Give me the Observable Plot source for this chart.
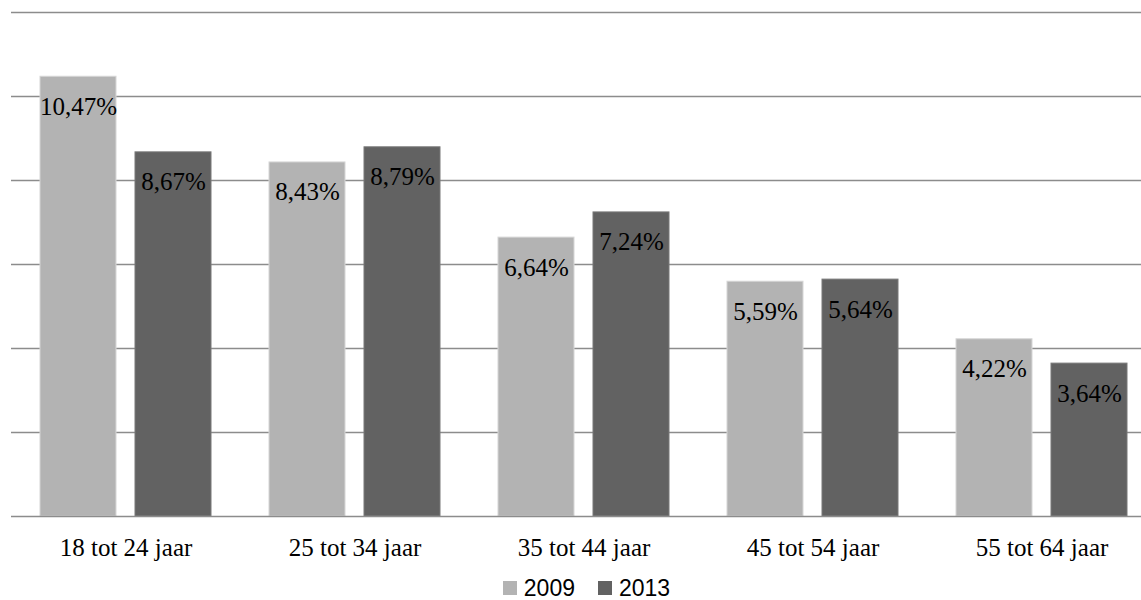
<!DOCTYPE html>
<html>
<head>
<meta charset="utf-8">
<script src="https://cdn.jsdelivr.net/npm/d3@7"></script>
<script src="https://cdn.jsdelivr.net/npm/@observablehq/plot@0.6"></script>
<style>
  html, body { margin: 0; padding: 0; background: #fff; }
  #wrap { position: relative; width: 1141px; height: 600px; overflow: hidden; }
  #chart svg { max-width: none !important; display: block; }
  #chart svg text { font-family: "Liberation Serif", serif !important; }
  .legend {
    position: absolute; left: 0; top: 577px;
    width: 1157px; box-sizing: border-box; padding-left: 16px;
    display: flex; justify-content: center; align-items: center;
    height: 22px; line-height: 22px;
    font-family: "Liberation Sans", sans-serif; font-size: 23px; color: #000;
  }
  .legend .item { display: flex; align-items: center; }
  .legend .sw { width: 14px; height: 14px; margin-right: 7px; }
  .legend .item + .item { margin-left: 23px; }
</style>
</head>
<body>
<div id="wrap">
  <div id="chart"></div>
  <div class="legend" id="legend"></div>
</div>
<script>
// Age groups and the share per survey year (percent)
const categories = ["18 tot 24 jaar", "25 tot 34 jaar", "35 tot 44 jaar", "45 tot 54 jaar", "55 tot 64 jaar"];
const years = ["2009", "2013"];
const values2009 = [10.47, 8.43, 6.64, 5.59, 4.22];
const values2013 = [8.67, 8.79, 7.24, 5.64, 3.64];
const yTicks = [0, 2, 4, 6, 8, 10, 12];
const colors = ["#b3b3b3", "#626262"];
const edges = ["#d6d6d6", "#787878"];

const rows = categories.flatMap((c, i) => [
  {category: c, year: years[0], value: values2009[i]},
  {category: c, year: years[1], value: values2013[i]}
]);

const fmt = v => v.toFixed(2).replace(".", ",") + "%";
const serif = "Liberation Serif";

const chart = Plot.plot({
  width: 1157,
  height: 570,
  marginLeft: 10,
  marginRight: 0,
  marginTop: 12,
  marginBottom: 54,
  style: {fontFamily: serif, fontSize: "25px", background: "#fff", maxWidth: "none"},
  fx: {domain: categories, paddingInner: 0, paddingOuter: 0, label: null, tickSize: 0, tickPadding: 22},
  x: {domain: years, paddingInner: 0.2, paddingOuter: 0.3, axis: null},
  y: {domain: [0, 12], axis: null},
  color: {domain: years, range: colors},
  marks: [
    Plot.ruleY(yTicks.filter(d => d > 0), {stroke: "#8c8c8c", strokeWidth: 1.5}),
    Plot.barY(rows, {
      fx: "category", x: "year", y: "value", fill: "year",
      stroke: d => edges[years.indexOf(d.year)], strokeWidth: 1
    }),
    Plot.text(rows, {
      fx: "category", x: "year", y: "value",
      text: d => fmt(d.value),
      lineAnchor: "bottom", dy: 38,
      fontSize: 25, fontFamily: serif, fill: "#000"
    }),
    Plot.ruleY([0], {stroke: "#8c8c8c", strokeWidth: 1.5})
  ]
});
document.getElementById("chart").appendChild(chart);

// Force text layout now so the serif face is resolved before the first paint
document.fonts.check("25px 'Liberation Serif'");
chart.querySelectorAll("text").forEach(t => { getComputedStyle(t).fontFamily; t.getBBox(); });

// Legend below the chart
const legend = document.getElementById("legend");
years.forEach((y, i) => {
  const item = document.createElement("div");
  item.className = "item";
  const sw = document.createElement("span");
  sw.className = "sw";
  sw.style.background = colors[i];
  const lab = document.createElement("span");
  lab.textContent = y;
  item.appendChild(sw);
  item.appendChild(lab);
  legend.appendChild(item);
});
</script>
</body>
</html>
